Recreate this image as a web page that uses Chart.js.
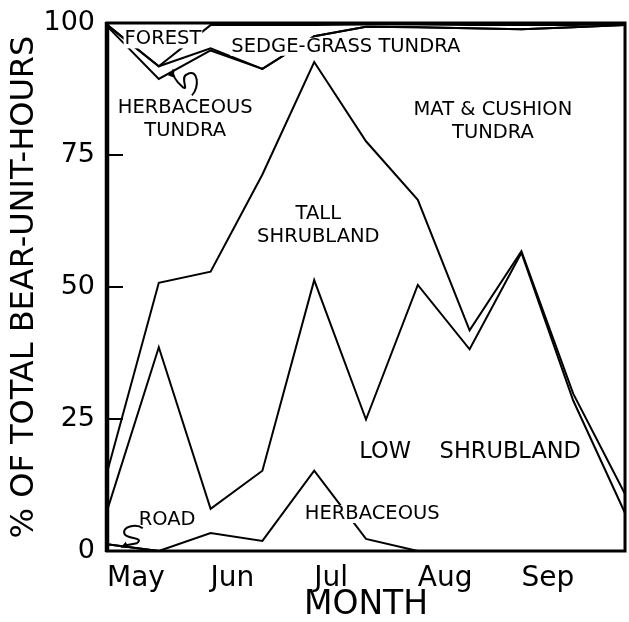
<!DOCTYPE html>
<html>
<head>
<meta charset="utf-8">
<script src="https://cdn.jsdelivr.net/npm/chart.js@4.4.1/dist/chart.umd.min.js"></script>
<style>
  html, body { margin: 0; padding: 0; background: #fff; }
</style>
</head>
<body>
<canvas id="myChart" width="629" height="622"></canvas>
<script>
// half-month sample points, May 1 .. Oct 1
const halfMonths = ["May 1", "May 15", "Jun 1", "Jun 15", "Jul 1", "Jul 15",
  "Aug 1", "Aug 15", "Sep 1", "Sep 15", "Oct 1"];
const monthLabels = ["May", "Jun", "Jul", "Aug", "Sep"];
const yTicks = [0, 25, 50, 75, 100];

// % of total bear-unit-hours per habitat (stacked bottom to top)
const road = [1.3, 0, 0, 0, 0, 0, 0, 0, 0, 0, 0];
const herbaceous = [0, 0, 3.4, 1.9, 15.2, 2.3, 0, 0, 0, 0, 0];
const lowShrub = [6.3, 38.6, 4.6, 13.3, 36.1, 22.6, 50.4, 38.2, 56.5, 28.5, 7.2];
const tallShrub = [7.2, 12.2, 44.9, 56.1, 41.3, 52.7, 16.1, 3.6, 0.3, 1.3, 3.6];
const matCushion = [84.6, 38.6, 41.9, 20.0, 4.9, 21.7, 32.7, 57.2, 42.0, 69.4, 88.8];
const herbTundra = [0.2, 2.4, 0.4, 0, 0, 0, 0, 0, 0, 0, 0];
const sedgeGrass = [0.1, 0, 4.4, 8.3, 2.1, 0.4, 0.5, 0.6, 0.8, 0.4, 0.2];
const forest = [0.3, 8.2, 0.4, 0.4, 0.4, 0.3, 0.3, 0.4, 0.4, 0.4, 0.2];

const seriesNames = ["Road", "Herbaceous", "Low shrubland", "Tall shrubland",
  "Mat & cushion tundra", "Herbaceous tundra", "Sedge-grass tundra", "Forest"];
const seriesValues = [road, herbaceous, lowShrub, tallShrub, matCushion,
  herbTundra, sedgeGrass, forest];

// area labels, placed in data units (index along x, percent on y)
const notes = [
  { lines: ["FOREST"], ix: 1.08, v: 96.9 },
  { lines: ["SEDGE-GRASS TUNDRA"], ix: 4.61, v: 95.5 },
  { lines: ["HERBACEOUS", "TUNDRA"], ix: 1.51, v: 83.9 },
  { lines: ["MAT & CUSHION", "TUNDRA"], ix: 7.45, v: 83.5 },
  { lines: ["TALL", "SHRUBLAND"], ix: 4.08, v: 63.8 },
  { lines: ["LOW    SHRUBLAND"], ix: 7.01, v: 18.7, size: 22.5 },
  { lines: ["HERBACEOUS"], ix: 5.12, v: 7.0 },
  { lines: ["ROAD"], ix: 1.16, v: 5.9 }
];

const FONT = "'DejaVu Sans', sans-serif";

function arrowHead(ctx, x, y, ang) {
  const L = 8;
  ctx.beginPath();
  ctx.moveTo(x, y);
  ctx.lineTo(x - L * Math.cos(ang - 0.4), y - L * Math.sin(ang - 0.4));
  ctx.lineTo(x - L * Math.cos(ang + 0.4), y - L * Math.sin(ang + 0.4));
  ctx.closePath();
  ctx.fillStyle = "#000";
  ctx.fill();
}

const notesPlugin = {
  id: "notes",
  afterDatasetsDraw(chart) {
    const ctx = chart.ctx;
    const xs = chart.scales.x, ys = chart.scales.y;
    ctx.save();
    ctx.textAlign = "center";
    ctx.textBaseline = "middle";
    notes.forEach(n => {
      ctx.font = (n.size || 19.5) + "px " + FONT;
      const cx = xs.getPixelForValue(n.ix);
      let cy = ys.getPixelForValue(n.v);
      n.lines.forEach(t => {
        const w = ctx.measureText(t).width;
        ctx.fillStyle = "#fff";
        ctx.fillRect(cx - w / 2 - 1, cy - 9, w + 2, 18);
        ctx.fillStyle = "#000";
        ctx.fillText(t, cx, cy);
        cy += 23;
      });
    });

    // curly pointers
    ctx.strokeStyle = "#000";
    ctx.lineWidth = 2;
    const p = (ix, v) => [xs.getPixelForValue(ix), ys.getPixelForValue(v)];
    // herbaceous tundra pointer
    let a = p(1.64, 86.3), b = p(1.72, 90.0), c = p(1.55, 90.3), d = p(1.47, 87.8), e = p(1.28, 91.2);
    ctx.beginPath();
    ctx.moveTo(a[0], a[1]);
    ctx.bezierCurveTo(a[0] + 8, a[1] - 8, b[0] + 2, b[1] - 8, c[0], c[1]);
    ctx.bezierCurveTo(c[0] - 8, c[1] + 2, d[0] + 6, d[1] + 4, d[0], d[1]);
    ctx.quadraticCurveTo(e[0] - 2, e[1] + 8, e[0], e[1]);
    ctx.stroke();
    arrowHead(ctx, e[0], e[1], -Math.PI / 2 + 0.35);
    // road pointer: S-shaped squiggle
    a = p(0.69, 4.3); e = p(0.26, 0.6);
    ctx.beginPath();
    ctx.moveTo(a[0], a[1]);
    ctx.bezierCurveTo(a[0] - 6, a[1] - 5, a[0] - 22, a[1] - 2, a[0] - 18, a[1] + 6);
    ctx.bezierCurveTo(a[0] - 14, a[1] + 11, a[0] + 2, a[1] + 9, a[0] - 6, a[1] + 15);
    ctx.lineTo(e[0] + 3, e[1] - 2);
    ctx.stroke();
    arrowHead(ctx, e[0], e[1], Math.PI - 0.45);
    ctx.restore();
  }
};

const framePlugin = {
  id: "frame",
  afterDraw(chart) {
    const { left, right, top, bottom } = chart.chartArea;
    const ctx = chart.ctx;
    const ys = chart.scales.y;
    ctx.save();
    ctx.strokeStyle = "#000";
    ctx.lineWidth = 3;
    ctx.strokeRect(left, top, right - left, bottom - top);
    ctx.lineWidth = 4.5;
    ctx.beginPath();
    ctx.moveTo(left, top - 1);
    ctx.lineTo(left, bottom + 1);
    ctx.stroke();
    // inner tick marks
    ctx.lineWidth = 2;
    yTicks.slice(1, -1).forEach(t => {
      const y = ys.getPixelForValue(t);
      ctx.beginPath();
      ctx.moveTo(left, y);
      ctx.lineTo(left + 16, y);
      ctx.stroke();
    });
    ctx.restore();
  }
};

new Chart(document.getElementById("myChart").getContext("2d"), {
  type: "line",
  data: {
    labels: halfMonths,
    datasets: seriesValues.map((vals, i) => ({
      label: seriesNames[i],
      data: vals,
      borderColor: "#000",
      borderWidth: 2,
      pointRadius: 0,
      fill: false,
      tension: 0
    }))
  },
  options: {
    responsive: false,
    animation: false,
    devicePixelRatio: 1,
    layout: { padding: { top: 23, right: 4, left: 0, bottom: 0 } },
    plugins: { legend: { display: false }, tooltip: { enabled: false } },
    scales: {
      x: {
        offset: false,
        grid: { display: false, drawTicks: false },
        border: { display: false },
        afterFit(scale) {
          scale.height = 71;
          scale.paddingLeft = 0;
          scale.paddingRight = 0;
        },
        ticks: {
          autoSkip: false,
          maxRotation: 0,
          align: "start",
          padding: 11,
          color: "#000",
          font: { family: FONT, size: 28 },
          callback: (val, i) => (i % 2 === 0 ? (monthLabels[i / 2] || "") : "")
        },
        title: {
          display: true,
          text: "MONTH",
          color: "#000",
          padding: 0,
          font: { family: FONT, size: 33, lineHeight: 1 }
        }
      },
      y: {
        stacked: true,
        min: 0,
        max: 100,
        grid: { display: false, drawTicks: false },
        border: { display: false },
        afterFit(scale) {
          scale.width = 107;
          scale.paddingTop = 0;
          scale.paddingBottom = 0;
        },
        afterBuildTicks(scale) { scale.ticks = yTicks.map(v => ({ value: v })); },
        ticks: {
          padding: 12,
          color: "#000",
          font: { family: FONT, size: 27 },
          callback: v => String(v)
        },
        title: {
          display: true,
          text: "% OF TOTAL BEAR-UNIT-HOURS",
          color: "#000",
          padding: { top: 5, bottom: 0 },
          font: { family: FONT, size: 32, lineHeight: 1.2 }
        }
      }
    }
  },
  plugins: [notesPlugin, framePlugin]
});
</script>
</body>
</html>
